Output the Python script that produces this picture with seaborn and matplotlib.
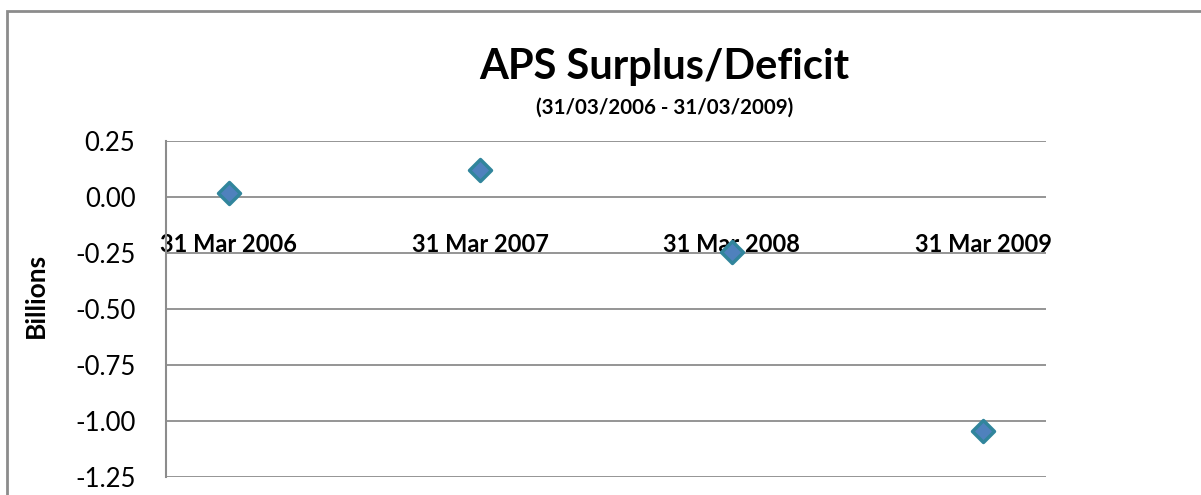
import matplotlib
matplotlib.use('Agg')
import matplotlib.pyplot as plt
import seaborn as sns
import pandas as pd
from matplotlib.patches import Rectangle
from matplotlib.ticker import FormatStrFormatter

# data
dates = ['31 Mar 2006', '31 Mar 2007', '31 Mar 2008', '31 Mar 2009']
surplus = [0.02, 0.12, -0.245, -1.045]   # billions
y_ticks = [0.25, 0.00, -0.25, -0.50, -0.75, -1.00, -1.25]

df = pd.DataFrame({'date': dates, 'pos': range(len(dates)), 'value': surplus})

sns.set_theme(style='white')
plt.rcParams['font.family'] = ['Lato', 'DejaVu Sans']
plt.rcParams['text.color'] = 'black'
plt.rcParams['xtick.color'] = 'black'
plt.rcParams['ytick.color'] = 'black'
plt.rcParams['axes.labelcolor'] = 'black'

fig = plt.figure(figsize=(12.01, 4.95), dpi=100)
ax = fig.add_axes([166 / 1201, 18 / 495, 880 / 1201, 336 / 495])

sns.scatterplot(data=df, x='pos', y='value', marker='D', s=125,
                color='#4F81BD', edgecolor='#31859C', linewidth=2.5,
                ax=ax, zorder=5, legend=False)

ax.set_xlim(-0.25, 3.25)
ax.set_ylim(-1.25, 0.25)
ax.set_yticks(y_ticks)
ax.yaxis.set_major_formatter(FormatStrFormatter('%.2f'))
ax.grid(axis='y', color='#8c8c8c', linewidth=1.3)
ax.set_axisbelow(True)

# category labels sit on the zero line, like the original
ax.spines['bottom'].set_position(('data', 0))
ax.spines['bottom'].set_visible(False)
ax.spines['top'].set_visible(False)
ax.spines['right'].set_visible(False)
ax.spines['left'].set_color('#8c8c8c')
ax.spines['left'].set_linewidth(1.5)
ax.set_xticks(df['pos'])
ax.set_xticklabels(dates, fontsize=17, fontweight='bold')
ax.tick_params(axis='x', length=0, pad=26)
ax.tick_params(axis='y', length=0, pad=22, labelsize=18.5)

ax.set_xlabel('')
ax.set_ylabel('Billions', fontsize=19, fontweight='bold')
ax.yaxis.set_label_coords((48 - 166) / 880, (477 - 295) / 336)

fig.text(664 / 1201, 1 - 67 / 495, 'APS Surplus/Deficit', ha='center', va='center',
         fontsize=30, fontweight='bold')
fig.text(665 / 1201, 1 - 108 / 495, '(31/03/2006 - 31/03/2009)', ha='center', va='center',
         fontsize=14.8, fontweight='bold')

# outer chart frame (cut off at right and bottom)
fig.patches.append(Rectangle((7 / 1201, -0.1), 1.2, 1 - 11 / 495 + 0.1,
                             transform=fig.transFigure, fill=False,
                             edgecolor='#8c8c8c', linewidth=2))

fig.savefig('out.png', dpi=100)
